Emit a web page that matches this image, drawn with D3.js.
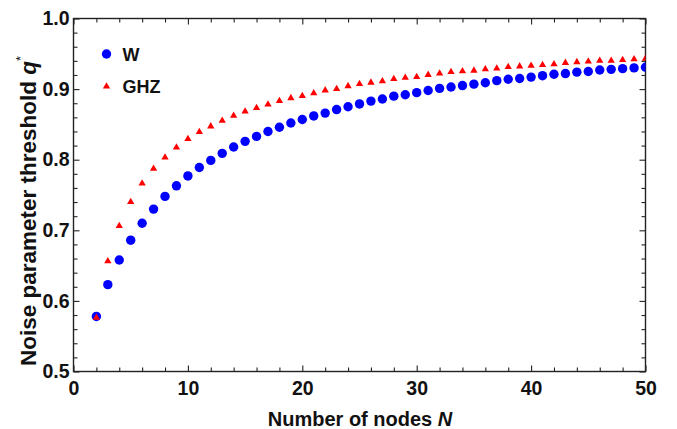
<!DOCTYPE html>
<html>
<head>
<meta charset="utf-8">
<script src="https://cdn.jsdelivr.net/npm/d3@7"></script>
<style>
  body { margin: 0; background: #fff; }
  svg { display: block; font-family: "Liberation Sans", Arial, sans-serif; font-weight: bold; }
</style>
</head>
<body>
<svg width="677" height="429"></svg>
<script>
// number of nodes N
const nodes = d3.range(2, 51);

// q* for the W state, N = 2..50
const wValues = [
    0.578, 0.623, 0.658, 0.686, 0.710, 0.730, 0.748, 0.763, 0.777, 0.789,
    0.799, 0.809, 0.818, 0.826, 0.833, 0.840, 0.846, 0.852, 0.857, 0.862,
    0.866, 0.871, 0.875, 0.879, 0.883, 0.886, 0.890, 0.892, 0.895, 0.898,
    0.901, 0.903, 0.905, 0.907, 0.909, 0.912, 0.914, 0.915, 0.917, 0.919,
    0.921, 0.922, 0.924, 0.925, 0.927, 0.928, 0.929, 0.930, 0.931
];

// q* for the GHZ state, N = 2..50
const ghzValues = [
    0.577, 0.657, 0.707, 0.741, 0.767, 0.788, 0.804, 0.818, 0.830, 0.840,
    0.848, 0.856, 0.863, 0.869, 0.874, 0.879, 0.884, 0.888, 0.891, 0.895,
    0.899, 0.901, 0.905, 0.908, 0.910, 0.912, 0.915, 0.917, 0.918, 0.921,
    0.923, 0.925, 0.926, 0.927, 0.929, 0.930, 0.932, 0.933, 0.934, 0.935,
    0.936, 0.938, 0.939, 0.940, 0.941, 0.941, 0.942, 0.943, 0.944
];

const xMajor = [0, 10, 20, 30, 40, 50];
const yMajor = [0.5, 0.6, 0.7, 0.8, 0.9, 1.0];

const svg = d3.select('svg');
const margin = { left: 73.5, right: 677 - 645.5, top: 18.5, bottom: 429 - 371.5 };
const width = 677 - margin.left - margin.right;
const height = 429 - margin.top - margin.bottom;

const x = d3.scaleLinear().domain([0, 50]).range([margin.left, margin.left + width]);
const y = d3.scaleLinear().domain([0.5, 1.0]).range([margin.top + height, margin.top]);

const axisColor = '#222';
const plot = svg.append('g').attr('class', 'plot');

// ticks on all four sides, pointing inward
const xMinor = d3.range(0, 51, 2).filter(v => v % 10 !== 0);
const yMinor = d3.range(0.52, 1.0, 0.02).filter(v => Math.abs(v * 10 - Math.round(v * 10)) > 1e-6);

const addAxis = (axis, tx, ty) => {
    const g = plot.append('g')
        .attr('transform', `translate(${tx},${ty})`)
        .call(axis);
    g.select('.domain').remove();
    g.selectAll('line').attr('stroke', axisColor).attr('stroke-width', 1.1);
    return g;
};

// bottom
addAxis(d3.axisBottom(x).tickValues(xMinor).tickSize(-4).tickFormat(''), 0, margin.top + height);
addAxis(d3.axisBottom(x).tickValues(xMajor).tickSizeInner(-6).tickSizeOuter(0).tickPadding(10).tickFormat(d3.format('d')), 0, margin.top + height)
    .selectAll('text')
        .attr('fill', '#111')
        .style('font-size', '19.5px')
        .style('font-weight', 'bold');
// top
addAxis(d3.axisTop(x).tickValues(xMinor).tickSize(-4).tickFormat(''), 0, margin.top);
addAxis(d3.axisTop(x).tickValues(xMajor).tickSize(-6).tickFormat(''), 0, margin.top);
// left
addAxis(d3.axisLeft(y).tickValues(yMinor).tickSize(-4).tickFormat(''), margin.left, 0);
addAxis(d3.axisLeft(y).tickValues(yMajor).tickSizeInner(-6).tickSizeOuter(0).tickPadding(4).tickFormat(d3.format('.1f')), margin.left, 0)
    .selectAll('text')
        .attr('fill', '#111')
        .style('font-size', '19.5px')
        .style('font-weight', 'bold');
// right
addAxis(d3.axisRight(y).tickValues(yMinor).tickSize(-4).tickFormat(''), margin.left + width, 0);
addAxis(d3.axisRight(y).tickValues(yMajor).tickSize(-6).tickFormat(''), margin.left + width, 0);

// frame
plot.append('rect')
    .attr('x', margin.left)
    .attr('y', margin.top)
    .attr('width', width)
    .attr('height', height)
    .attr('fill', 'none')
    .attr('stroke', axisColor)
    .attr('stroke-width', 1.4);

svg.append('clipPath').attr('id', 'clip')
    .append('rect')
        .attr('x', margin.left - 6)
        .attr('y', margin.top)
        .attr('width', width + 6)
        .attr('height', height);

const tri = d3.symbol().type(d3.symbolTriangle).size(23);

const marks = svg.append('g').attr('clip-path', 'url(#clip)');

marks.selectAll('.w')
    .data(nodes)
    .join('circle')
        .attr('class', 'w')
        .attr('cx', d => x(d))
        .attr('cy', (d, i) => y(wValues[i]))
        .attr('r', 4.7)
        .attr('fill', '#0000ff');

marks.selectAll('.ghz')
    .data(nodes)
    .join('path')
        .attr('class', 'ghz')
        .attr('d', tri)
        .attr('transform', (d, i) => `translate(${x(d)},${y(ghzValues[i]) + 0.5})`)
        .attr('fill', '#ff0000');

// legend
const legend = svg.append('g').attr('class', 'legend');
const legendItems = [
    { label: 'W', kind: 'circle', color: '#0000ff' },
    { label: 'GHZ', kind: 'triangle', color: '#ff0000' }
];
const items = legend.selectAll('g')
    .data(legendItems)
    .join('g')
        .attr('transform', (d, i) => `translate(106.5,${54 + i * 32})`);

items.filter(d => d.kind === 'circle').append('circle')
    .attr('r', 4.7)
    .attr('fill', d => d.color);
items.filter(d => d.kind === 'triangle').append('path')
    .attr('d', tri)
    .attr('transform', 'translate(0,0.5)')
    .attr('fill', d => d.color);
items.append('text')
    .attr('x', 16)
    .attr('y', 6.5)
    .attr('fill', '#111')
    .style('font-size', '18px')
    .text(d => d.label);

// axis titles
svg.append('text')
    .attr('x', 360)
    .attr('y', 425.5)
    .attr('text-anchor', 'middle')
    .attr('fill', '#111')
    .style('font-size', '20px')
    .call(t => {
        t.append('tspan').text('Number of nodes ');
        t.append('tspan').style('font-style', 'italic').text('N');
    });

svg.append('text')
    .attr('transform', 'translate(35.5,366) rotate(-90)')
    .attr('text-anchor', 'start')
    .attr('fill', '#111')
    .style('font-size', '22.5px')
    .call(t => {
        t.append('tspan').text('Noise parameter threshold ');
        t.append('tspan').style('font-style', 'italic').text('q');
        t.append('tspan').attr('dy', -11).style('font-size', '13px').style('font-weight', 'normal').text('*');
    });
</script>
</body>
</html>
